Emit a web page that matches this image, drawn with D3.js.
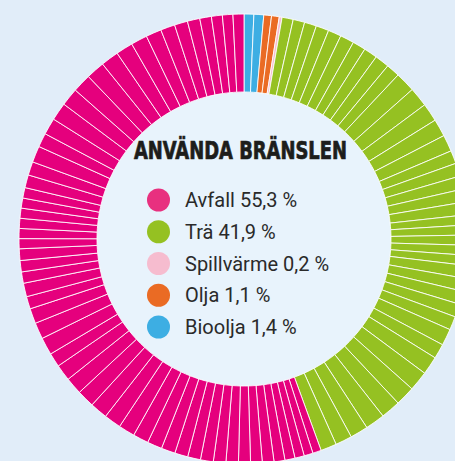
<!DOCTYPE html>
<html lang="sv">
<head>
<meta charset="UTF-8">
<title>Använda bränslen</title>
<script src="https://d3js.org/d3.v7.min.js"></script>
<style>
  html, body { margin: 0; padding: 0; background: #e1edf9; overflow: hidden; }
  svg { display: block; }
  .title { font-family: "Liberation Sans Narrow", "DejaVu Sans Condensed", sans-serif; font-weight: bold; fill: #1d1d1b; stroke: #1d1d1b; stroke-width: 0.7px; }
  .legend text { font-family: Roboto, "Noto Sans", sans-serif; fill: #2a2a2a; }
</style>
</head>
<body>
<svg width="455" height="461"></svg>
<script>
// categories in drawing order (clockwise from 12 o'clock)
const categories = ["Bioolja", "Olja", "Spillvärme", "Trä", "Avfall"];
const shares = [1.4, 1.1, 0.2, 41.9, 55.3];
const colors = ["#3daee3", "#ea6b24", "#f6bccf", "#95c122", "#e5007d"];
const legendDot = ["#3daee3", "#ea6b24", "#f6bccf", "#95c122", "#e8307f"];

const bioolja = [0.7, 0.7];
const olja = [0.55, 0.55];
const spillvarme = [0.2];
const tra = [0.8, 0.83, 0.86, 0.92, 0.94, 1.0, 0.94, 0.97, 1.03, 0.97,
             1.43, 1.39, 1.31, 1.25, 1.19, 0.94, 0.94, 0.94, 0.92, 0.92,
             0.72, 0.72, 0.72, 0.72, 0.72, 0.92, 0.92, 0.94, 0.94, 0.97,
             1.19, 1.06, 1.31, 1.42, 1.4, 1.4, 1.4, 1.28, 1.19, 1.14];
const avfall = [0.61, 0.64, 0.67, 0.72, 0.78, 0.83, 0.83, 0.86, 0.89, 0.89, 0.92, 0.92, 0.94,
                1.0, 1.06, 1.11, 1.17, 1.22, 1.25, 1.25, 1.22, 1.17, 1.0,
                1.25, 1.17, 1.08, 0.89, 0.97, 0.81, 0.81, 0.83, 0.72, 0.72, 0.72, 0.72, 0.72,
                0.75, 0.92, 0.97, 1.17, 1.0,
                1.19, 1.28, 1.28, 1.33, 1.33, 1.28, 1.22, 1.17, 1.11, 1.03, 0.94, 0.89, 0.83, 0.78, 0.75, 0.78];

// legend order
const legendOrder = ["Avfall", "Trä", "Spillvärme", "Olja", "Bioolja"];
const legendLabels = ["Avfall 55,3 %", "Trä 41,9 %", "Spillvärme 0,2 %", "Olja 1,1 %", "Bioolja 1,4 %"];

const sliceLists = [bioolja, olja, spillvarme, tra, avfall];
let slices = [];
sliceLists.forEach((list, i) => {
    list.forEach(v => slices.push({ cat: categories[i], value: v }));
});

const svg = d3.select("svg");
const cx = 244, cy = 239;
const outerR = 225, innerR = 147;

const color = d3.scaleOrdinal().domain(categories).range(colors);

// lighter inner disc
svg.append("circle")
    .attr("cx", cx).attr("cy", cy).attr("r", innerR)
    .attr("fill", "#e8f3fc");

const pie = d3.pie().sort(null).value(d => d.value);
const arc = d3.arc().innerRadius(innerR).outerRadius(outerR);

svg.append("g")
    .attr("transform", `translate(${cx},${cy})`)
    .selectAll("path")
    .data(pie(slices))
    .join("path")
    .attr("d", arc)
    .attr("fill", d => color(d.data.cat))
    .attr("stroke", "#ffffff")
    .attr("stroke-width", 1)
    .attr("stroke-opacity", 0.85);

// title
svg.append("text")
    .attr("class", "title")
    .attr("x", 134).attr("y", 159)
    .attr("font-size", 24)
    .attr("textLength", 213)
    .attr("lengthAdjust", "spacingAndGlyphs")
    .text("ANVÄNDA BRÄNSLEN");

// legend
const ly = d3.scalePoint().domain(legendOrder).range([200, 327]);
const legend = svg.append("g").attr("class", "legend");
const rows = legend.selectAll("g")
    .data(legendOrder)
    .join("g")
    .attr("transform", d => `translate(0,${ly(d)})`);

rows.append("circle")
    .attr("cx", 158.5).attr("cy", 0).attr("r", 11.5)
    .attr("fill", d => legendDot[categories.indexOf(d)]);

rows.append("text")
    .attr("x", 185).attr("y", 7)
    .attr("font-size", 20)
    .text((d, i) => legendLabels[i]);
</script>
</body>
</html>
